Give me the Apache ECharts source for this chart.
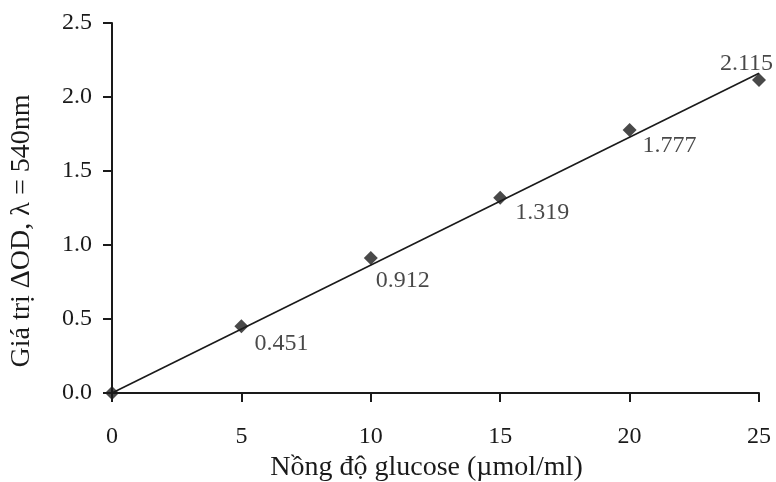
<!DOCTYPE html>
<html>
<head>
<meta charset="utf-8">
<script src="https://cdn.jsdelivr.net/npm/echarts@6/dist/echarts.min.js"></script>
<style>
html,body{margin:0;padding:0;background:#ffffff;}
#chart{width:776px;height:482px;}
</style>
</head>
<body>
<div id="chart"></div>
<script>
// Data
var concentrations = [0, 5, 10, 15, 20, 25];
var odValues = [0, 0.451, 0.912, 1.319, 1.777, 2.115];
var pointLabels = ['', '0.451', '0.912', '1.319', '1.777', '2.115'];
var trendX = [0, 25];
var trendY = [0, 2.16];
var xTicks = [0, 5, 10, 15, 20, 25];
var yTicks = ['0.0', '0.5', '1.0', '1.5', '2.0', '2.5'];

var FONT = '"Liberation Serif", "Times New Roman", serif';
var INK = '#1a1a1a';

// label placement per point (styling, not data)
var labelPos = [[0, 0], [20, 12], [12, 18], [22, 10], [20, 11], [-32, -21]];

var scatterData = concentrations.map(function (x, i) {
  return {
    value: [x, odValues[i]],
    label: {
      show: pointLabels[i] !== '',
      formatter: pointLabels[i],
      position: labelPos[i]
    }
  };
});
var trendData = trendX.map(function (x, i) { return [x, trendY[i]]; });

var chart = echarts.init(document.getElementById('chart'), null, {renderer: 'canvas'});
chart.setOption({
  backgroundColor: '#ffffff',
  animation: false,
  grid: {left: 112, right: 17, top: 23, bottom: 89, containLabel: false, outerBoundsMode: 'none'},
  xAxis: {
    type: 'value',
    min: 0, max: 25, interval: 5,
    name: 'Nồng độ glucose (µmol/ml)',
    nameLocation: 'middle',
    nameGap: 58,
    nameTextStyle: {fontFamily: FONT, fontSize: 28, color: INK, padding: [0, 18, 0, 0]},
    axisLine: {show: true, onZero: false, lineStyle: {color: INK, width: 2}},
    axisTick: {show: true, inside: false, length: 9, lineStyle: {color: INK, width: 2}},
    axisLabel: {
      margin: 32, fontFamily: FONT, fontSize: 24, color: INK,
      formatter: function (v) { return xTicks.indexOf(v) >= 0 ? String(v) : ''; }
    },
    splitLine: {show: false}
  },
  yAxis: {
    type: 'value',
    min: 0, max: 2.5, interval: 0.5,
    name: 'Giá trị ΔOD, λ = 540nm',
    nameLocation: 'middle',
    nameGap: 76,
    nameRotate: 90,
    nameTextStyle: {fontFamily: FONT, fontSize: 28, color: INK, padding: [0, 46, 0, 0]},
    axisLine: {show: true, onZero: false, lineStyle: {color: INK, width: 2}},
    axisTick: {show: true, inside: false, length: 9, lineStyle: {color: INK, width: 2}},
    axisLabel: {
      margin: 20, fontFamily: FONT, fontSize: 24, color: INK,
      formatter: function (v) { return yTicks[Math.round(v / 0.5)]; }
    },
    splitLine: {show: false}
  },
  series: [
    {
      type: 'line',
      data: trendData,
      symbol: 'none',
      lineStyle: {color: INK, width: 1.6},
      z: 2
    },
    {
      type: 'scatter',
      data: scatterData,
      symbol: 'diamond',
      symbolSize: 14,
      itemStyle: {color: '#1c1c1c'},
      label: {
        fontFamily: FONT, fontSize: 24, color: INK,
        align: 'left', verticalAlign: 'top'
      },
      z: 3
    }
  ]
});
</script>
</body>
</html>
